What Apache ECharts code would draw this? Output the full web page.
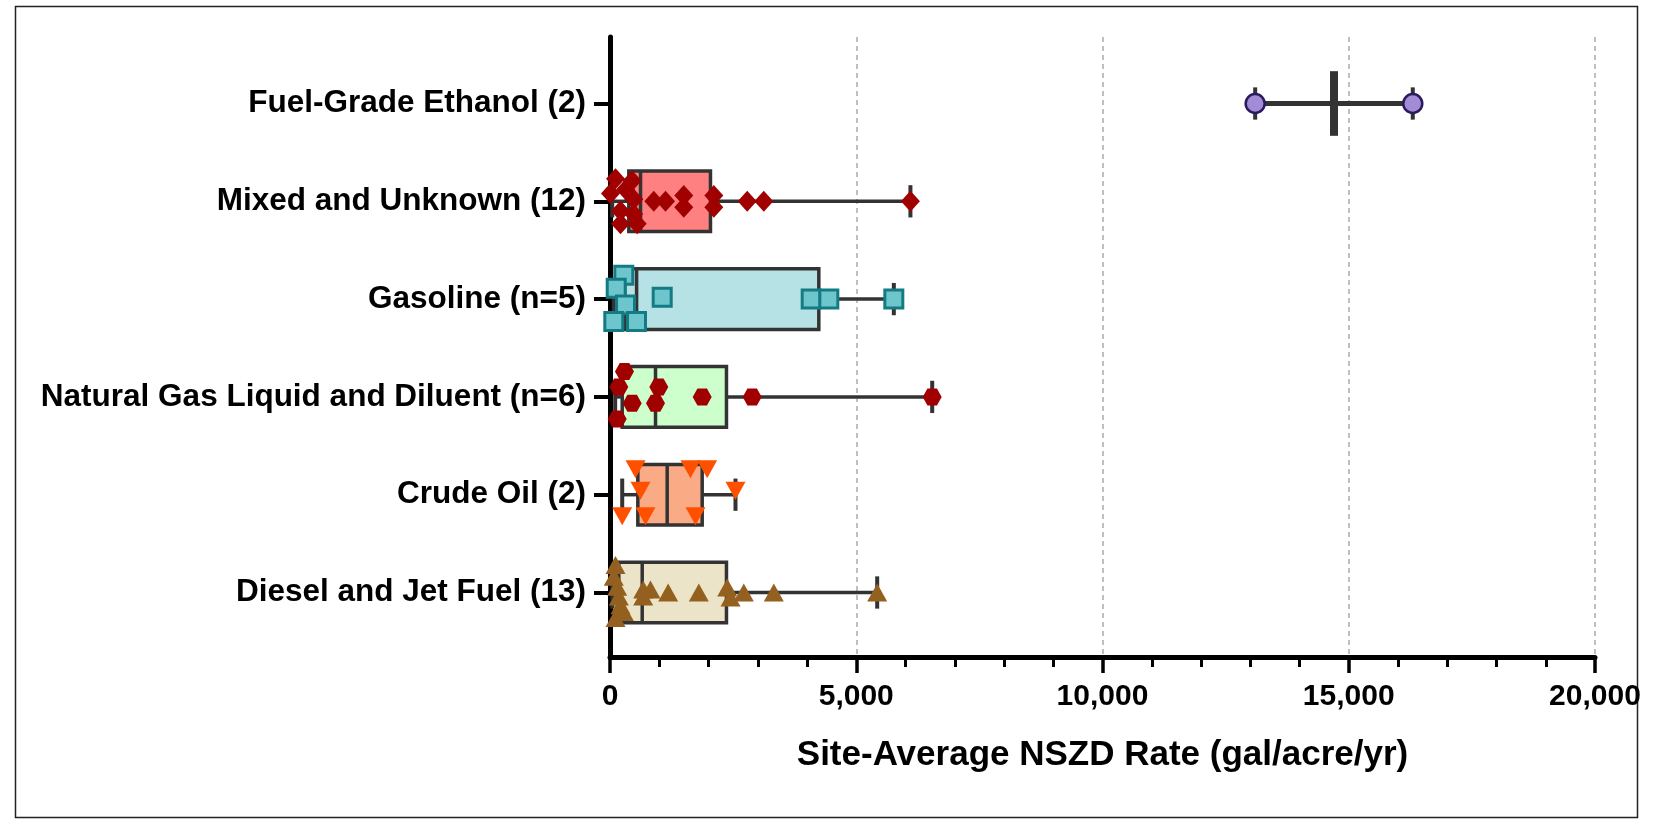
<!DOCTYPE html>
<html><head><meta charset="utf-8">
<script src="https://cdn.jsdelivr.net/npm/echarts@6/dist/echarts.min.js"></script>
<style>html,body{margin:0;padding:0;background:#fff}#c{width:1656px;height:822px}</style>
</head><body><div id="c"></div>
<script>
// ---------- DATA ----------
const categories = ['Fuel-Grade Ethanol (2)', 'Mixed and Unknown (12)', 'Gasoline (n=5)',
  'Natural Gas Liquid and Diluent (n=6)', 'Crude Oil (2)', 'Diesel and Jet Fuel (13)'];
const boxMin    = [13100,   45,   77,  105,  248,   50];
const boxQ1     = [14700,  382,  300,  248,  565,  179];
const boxMedian = [14700,  620,  540,  924, 1161,  654];
const boxQ3     = [14700, 2040, 4240, 2365, 1872, 2365];
const boxMax    = [16300, 6100, 5763, 6542, 2548, 5425];
const xTicks = [0, 5000, 10000, 15000, 20000];

// individual site values (x) and vertical jitter (fraction of row spacing)
const ethanolX = [13100, 16300];
const ethanolJ = [0, 0];
const mixedX = [112, 450, 10, 315, 484, 213, 480, 213, 552, 889, 1127, 1498, 1498, 2108, 2108, 2786, 3123, 6100];
const mixedJ = [-0.23, -0.21, -0.08, -0.12, -0.02, 0.10, 0.13, 0.23, 0.23, 0, 0, -0.06, 0.06, -0.06, 0.06, 0, 0, 0];
const gasolineX = [280, 126, 315, 77, 538, 1060, 4085, 4443, 5763];
const gasolineJ = [-0.245, -0.11, 0.06, 0.23, 0.23, -0.02, 0, 0, 0];
const nglX = [294, 179, 991, 450, 924, 146, 1872, 2887, 6542];
const nglJ = [-0.26, -0.10, -0.10, 0.065, 0.065, 0.225, 0, 0, 0];
const crudeX = [518, 1634, 1973, 619, 2548, 248, 721, 1736];
const crudeJ = [-0.26, -0.26, -0.26, -0.04, -0.04, 0.22, 0.22, 0.22];
const dieselX = [112, 77, 146, 179, 213, 280, 112, 674, 674, 822, 1181, 1803, 2380, 2447, 2717, 3326, 5425];
const dieselJ = [-0.28, -0.16, -0.06, 0.04, 0.13, 0.20, 0.26, -0.03, 0.04, -0.03, 0, 0, -0.05, 0.05, 0, 0, 0];

// ---------- STYLE ----------
const boxFill = ['#a38bd6', '#ff8080', '#b7e2e5', '#ccffcc', '#fbaa86', '#ebe4c8'];
const FONT = 'Liberation Sans, Arial, sans-serif';

const boxData = categories.map((c, i) => [i, boxMin[i], boxQ1[i], boxMedian[i], boxQ3[i], boxMax[i]]);

function pts(xs, js, ci) { return xs.map((x, k) => [x, ci + js[k]]); }

const hexPath = 'path://M0,50 L25,6.7 L75,6.7 L100,50 L75,93.3 L25,93.3 Z';

function scatter(name, data, symbol, size, color, border, bw, rot) {
  return {
    type: 'scatter', name: name, xAxisIndex: 1, yAxisIndex: 2, data: data,
    symbol: symbol, symbolSize: size, symbolRotate: rot || 0, z: 5,
    itemStyle: { color: color, borderColor: border, borderWidth: bw, opacity: 1 }
  };
}

const chart = echarts.init(document.getElementById('c'), null, { renderer: 'canvas' });
chart.setOption({
  animation: false,
  backgroundColor: '#fff',
  graphic: [{ type: 'rect', shape: { x: 15.5, y: 6.5, width: 1622, height: 811 },
    style: { fill: 'none', stroke: '#222', lineWidth: 1.5 }, z: -1 }],
  grid: [
    { left: 610, right: 61, top: 37, bottom: 165 },
    { left: 610, right: 61, top: 54.6, height: 586.8 }
  ],
  xAxis: [
    { type: 'value', gridIndex: 0, min: xTicks[0], max: xTicks[xTicks.length - 1], interval: 5000,
      axisLine: { show: true, lineStyle: { color: '#000', width: 5 } },
      axisTick: { show: true, length: 16, lineStyle: { color: '#000', width: 3.5 } },
      minorTick: { show: true, splitNumber: 5, length: 10, lineStyle: { color: '#000', width: 3 } },
      splitLine: { show: true, lineStyle: { color: '#aaa', type: [5, 4], width: 1.5 } },
      axisLabel: { fontFamily: FONT, fontWeight: 'bold', fontSize: 30, color: '#000', margin: 25,
        formatter: v => v.toLocaleString('en-US') },
      name: 'Site-Average NSZD Rate (gal/acre/yr)', nameLocation: 'middle', nameGap: 81,
      nameTextStyle: { fontFamily: FONT, fontWeight: 'bold', fontSize: 35, color: '#000' } },
    { type: 'value', gridIndex: 1, min: xTicks[0], max: xTicks[xTicks.length - 1], show: false }
  ],
  yAxis: [
    { type: 'value', gridIndex: 0, min: 0, max: 1,
      axisLine: { show: true, lineStyle: { color: '#000', width: 5 } },
      axisTick: { show: false }, axisLabel: { show: false }, splitLine: { show: false } },
    { type: 'category', gridIndex: 1, data: categories, inverse: true,
      axisLine: { show: false },
      axisTick: { show: true, alignWithLabel: true, length: 16, lineStyle: { color: '#000', width: 4 } },
      axisLabel: { fontFamily: FONT, fontWeight: 'bold', fontSize: 31.5, color: '#000', margin: 24 },
      splitLine: { show: false } },
    { type: 'value', gridIndex: 1, min: -0.5, max: 5.5, inverse: true, show: false }
  ],
  series: [
    {
      type: 'custom', xAxisIndex: 1, yAxisIndex: 2, data: boxData, z: 2,
      renderItem: function (params, api) {
        const ci = api.value(0);
        const v = [1, 2, 3, 4, 5].map(k => api.value(k));
        const yc = api.coord([0, ci])[1];
        const band = api.size([0, 1])[1];
        const boxH = band * 0.62, capH = band * 0.33;
        const x = v.map(val => api.coord([val, ci])[0]);
        const st = { stroke: '#333', lineWidth: 3.5, fill: null };
        const ch = [];
        const single = v[1] === v[3];
        const lw = single ? 5 : 3.5;
        ch.push({ type: 'line', shape: { x1: x[0], y1: yc, x2: x[1], y2: yc }, style: { stroke: '#333', lineWidth: lw } });
        ch.push({ type: 'line', shape: { x1: x[3], y1: yc, x2: x[4], y2: yc }, style: { stroke: '#333', lineWidth: lw } });
        ch.push({ type: 'line', shape: { x1: x[0], y1: yc - capH / 2, x2: x[0], y2: yc + capH / 2 }, style: { stroke: '#333', lineWidth: 4 } });
        ch.push({ type: 'line', shape: { x1: x[4], y1: yc - capH / 2, x2: x[4], y2: yc + capH / 2 }, style: { stroke: '#333', lineWidth: 4 } });
        if (single) {
          ch.push({ type: 'line', shape: { x1: x[2], y1: yc - boxH / 2 - 2, x2: x[2], y2: yc + boxH / 2 + 2 }, style: { stroke: '#333', lineWidth: 8 } });
        } else {
          ch.push({ type: 'rect', shape: { x: x[1], y: yc - boxH / 2, width: x[3] - x[1], height: boxH },
            style: { fill: boxFill[ci], stroke: '#333', lineWidth: 3.5 } });
          ch.push({ type: 'line', shape: { x1: x[2], y1: yc - boxH / 2, x2: x[2], y2: yc + boxH / 2 }, style: st });
        }
        return { type: 'group', children: ch };
      }
    },
    scatter('Ethanol', pts(ethanolX, ethanolJ, 0), 'circle', 19, '#a38bd6', '#2b1a5e', 2.5),
    scatter('Mixed', pts(mixedX, mixedJ, 1), 'diamond', [19, 21], '#a00000', '#a00000', 0),
    scatter('Gasoline', pts(gasolineX, gasolineJ, 2), 'rect', 18, '#6cc6cc', '#147a84', 3),
    scatter('NGL', pts(nglX, nglJ, 3), hexPath, [19, 17], '#a00000', '#a00000', 0),
    scatter('Crude', pts(crudeX, crudeJ, 4), 'triangle', [20, 18], '#ff5000', '#ff5000', 0, 180),
    scatter('Diesel', pts(dieselX, dieselJ, 5), 'triangle', [20, 18], '#946020', '#946020', 0)
  ]
});
</script></body></html>
